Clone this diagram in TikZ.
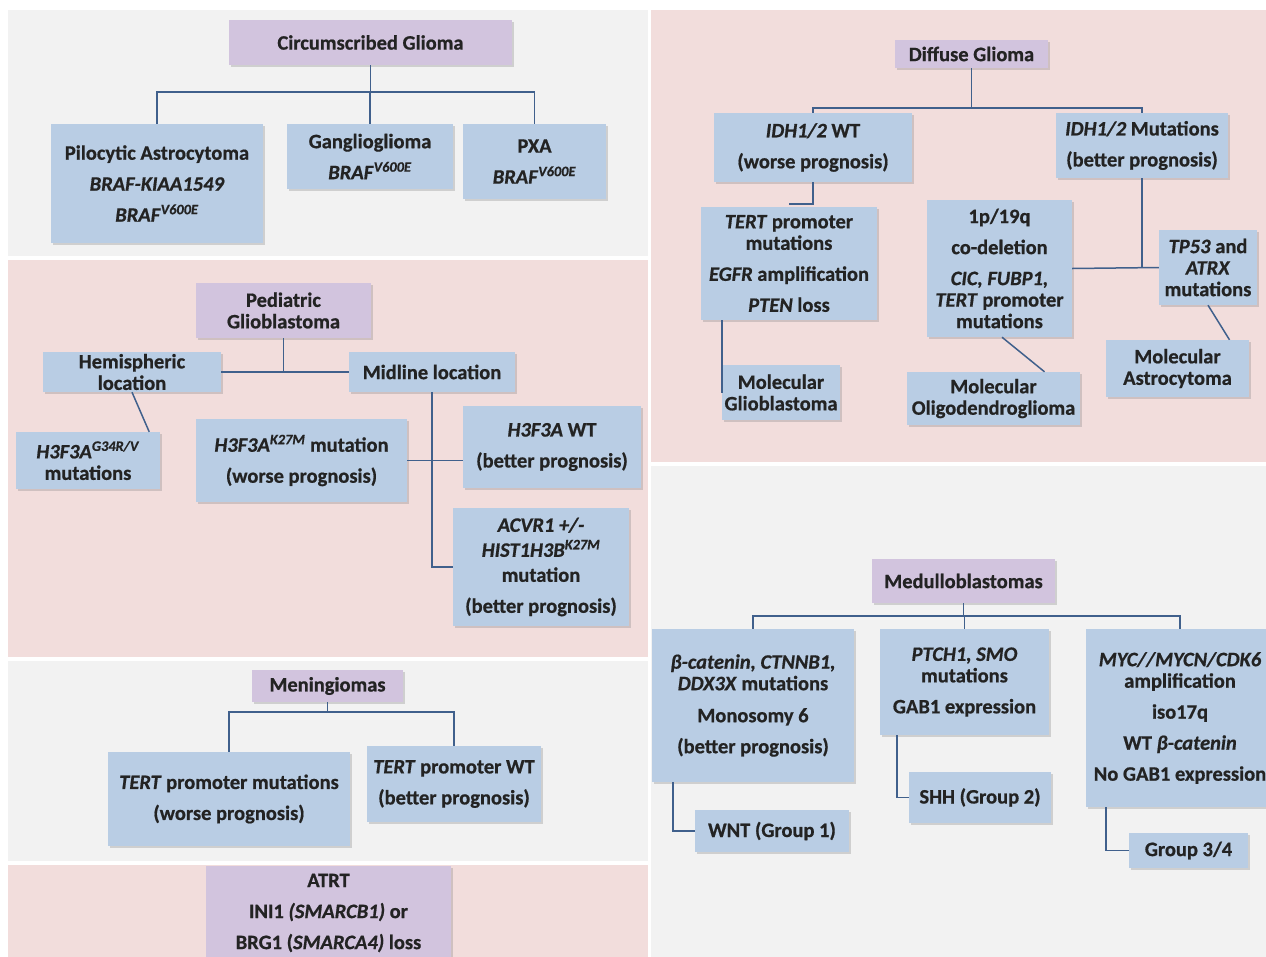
\documentclass[tikz,border=0pt]{standalone}
\usepackage{fontspec}
\setmainfont{Carlito}[BoldFeatures={FakeBold=0.7},BoldItalicFeatures={FakeBold=0.7}]
\usetikzlibrary{shadows,calc}
\definecolor{boxblue}{RGB}{185,205,228}
\definecolor{boxpurple}{RGB}{210,196,222}
\definecolor{panelpink}{RGB}{242,221,220}
\definecolor{panelgray}{RGB}{242,242,242}
\definecolor{linec}{RGB}{64,96,140}
\definecolor{txt}{RGB}{35,35,35}
\tikzset{
  bx/.style={rectangle, fill=boxblue, inner sep=0pt, align=center, text=txt,
    font=\bfseries\fontsize{20.5}{31}\selectfont,
    drop shadow={shadow xshift=1.5pt,shadow yshift=-2pt,opacity=0.3}},
  pbx/.style={bx, fill=boxpurple},
  tight/.style={font=\bfseries\fontsize{20.5}{21.5}\selectfont},
  sz/.style 2 args={minimum width=#1pt, minimum height=#2pt},
  conn/.style={draw=linec, line width=1.5pt},
}
\newcommand{\gi}[1]{\textit{#1}}
\begin{document}
\begin{tikzpicture}[x=1pt,y=-1pt]
\useasboundingbox (0,0) rectangle (1266,956);
\clip (0,0) rectangle (1266,956);
\fill[white] (0,0) rectangle (1266,956);
% panels
\fill[panelgray] (8,10) rectangle (648,256);
\fill[panelpink] (8,260) rectangle (648,657);
\fill[panelgray] (8,661) rectangle (648,861);
\fill[panelpink] (8,865) rectangle (648,960);
\fill[panelpink] (651,10) rectangle (1266,462);
\fill[panelgray] (651,466) rectangle (1266,960);

% ---------- Circumscribed glioma
\node[pbx, sz={283}{45}] (circ) at (370.5,42.5) {Circumscribed Glioma};
\node[bx, sz={212}{119}] (pilo) at (157,183.5) {Pilocytic Astrocytoma\\ \gi{BRAF-KIAA1549}\\ \gi{BRAF}\textsuperscript{\gi{V600E}}};
\node[bx, sz={166}{65}] (gang) at (370,156.5) {Ganglioglioma\\ \gi{BRAF}\textsuperscript{\gi{V600E}}};
\node[bx, sz={143}{75}] (pxa) at (534.5,161.5) {PXA\\ \gi{BRAF}\textsuperscript{\gi{V600E}}};
\coordinate (cj) at (370.5,92);
\draw[conn] (circ.south) -- (cj);
\draw[conn] (pilo.north) |- (cj) -| (pxa.north);
\draw[conn] (gang.north) -- (gang.north |- cj);

% ---------- Pediatric glioblastoma
\node[pbx, tight, sz={175}{55}] (ped) at (283.5,310.5) {Pediatric\\ Glioblastoma};
\node[bx, tight, sz={178}{40}] (hemi) at (132,372) {Hemispheric\\ location};
\node[bx, sz={166}{40}] (mid) at (432,372) {Midline location};
\node[bx, tight, sz={144}{57}] (g34) at (88,460.5) {\gi{H3F3A}\textsuperscript{\gi{G34R/V}}\\ mutations};
\node[bx, sz={211}{83}] (k27) at (301.5,460.5) {\gi{H3F3A}\textsuperscript{\gi{K27M}} mutation\\ (worse prognosis)};
\node[bx, sz={178}{82}] (h3wt) at (552,447) {\gi{H3F3A} WT\\ (better prognosis)};
\node[bx, tight, sz={176}{118}] (acvr) at (541,567) {\gi{ACVR1 +/-}\\[3.5pt] \gi{HIST1H3B}\textsuperscript{\gi{K27M}}\\[3.5pt] mutation\\[9.5pt] (better prognosis)};
\draw[conn] (hemi.east) -- (mid.west);
\draw[conn] (ped.south) -- (ped.south |- hemi.east);
\draw[conn] (hemi.south) -- ($(g34.north east)+(-11,0)$);
\draw[conn] (k27.east) -- (k27.east -| h3wt.west);
\draw[conn] (mid.south) |- (acvr.west);

% ---------- Meningiomas
\node[pbx, sz={151}{32}] (men) at (327.5,686) {Meningiomas};
\node[bx, sz={242}{94}] (tertm) at (229,799) {\gi{TERT} promoter mutations\\ (worse prognosis)};
\node[bx, sz={174}{76}] (tertwt) at (454,784) {\gi{TERT} promoter WT\\ (better prognosis)};
\coordinate (mj) at (327.5,712);
\draw[conn] (men.south) -- (mj);
\draw[conn] (tertm.north) |- (mj) -| (tertwt.north);

% ---------- ATRT
\node[pbx, sz={245}{94}] (atrt) at (328.5,913) {ATRT\\ INI1 \gi{(SMARCB1)} or\\ BRG1 (\gi{SMARCA4)} loss};

% ---------- Diffuse glioma
\node[pbx, sz={153}{28}] (diff) at (971.5,54) {Diffuse Glioma};
\node[bx, sz={198}{69}] (idhwt) at (813,147.5) {\gi{IDH1/2} WT\\ (worse prognosis)};
\node[bx, sz={172}{65}] (idhm) at (1142,145.5) {\gi{IDH1/2} Mutations\\ (better prognosis)};
\node[bx, tight, sz={176}{113}] (tertd) at (789,263.5) {\gi{TERT} promoter\\ mutations\\[9.5pt] \gi{EGFR} amplification\\[9.5pt] \gi{PTEN} loss};
\node[bx, tight, sz={145}{137}] (p19) at (999.5,268.5) {1p/19q\\[9.5pt] co-deletion\\[9.5pt] \gi{CIC, FUBP1,}\\ \gi{TERT} promoter\\ mutations};
\node[bx, tight, sz={98}{75}] (tp53) at (1208,267.5) {\gi{TP53} and\\ \gi{ATRX}\\ mutations};
\node[bx, tight, sz={118}{55}] (molgbm) at (781,392.5) {Molecular\\ Glioblastoma};
\node[bx, tight, sz={173}{53}] (oligo) at (993.5,398.5) {Molecular\\ Oligodendroglioma};
\node[bx, tight, sz={143}{57}] (astro) at (1177.5,368.5) {Molecular\\ Astrocytoma};
\coordinate (dj) at (971.5,108);
\draw[conn] (diff.south) -- (dj);
\draw[conn] (idhwt.north) |- (dj) -| (idhm.north);
\draw[conn] (idhwt.south) |- ($(tertd.north)+(0,-3)$);
\draw[conn] (molgbm.west |- tertd.south) -- (molgbm.west);
\draw[conn] (p19.east) -- (tp53.west);
\draw[conn] (idhm.south) -- (idhm.south |- tp53.west);
\draw[conn] ($(p19.south)+(2.5,0)$) -- ($(oligo.north)+(51,0)$);
\draw[conn] (tp53.south) -- ($(astro.north)+(52,0)$);

% ---------- Medulloblastomas
\node[pbx, sz={183}{44}] (medu) at (963.5,581) {Medulloblastomas};
\node[bx, tight, sz={202}{153}] (bcat) at (753,705.5) {\gi{β-catenin, CTNNB1,}\\ \gi{DDX3X} mutations\\[10.5pt] Monosomy 6\\[9.5pt] (better prognosis)};
\node[bx, tight, sz={169}{106}] (ptch) at (964.5,682) {\gi{PTCH1, SMO}\\ mutations\\[9.5pt] GAB1 expression};
\node[bx, tight, sz={188}{178}] (myc) at (1180,718) {\gi{MYC//MYCN/CDK6}\\ amplification\\[9.5pt] iso17q\\[9.5pt] WT \gi{β-catenin}\\[9.5pt] No GAB1 expression};
\node[bx, sz={154}{42}] (wnt) at (772,831) {WNT (Group 1)};
\node[bx, sz={142}{51}] (shh) at (980,797.5) {SHH (Group 2)};
\node[bx, sz={119}{35}] (g3) at (1188.5,850.5) {Group 3/4};
\coordinate (mdj) at (963.5,616);
\draw[conn] (medu.south) -- (mdj);
\draw[conn] (bcat.north) |- (mdj) -| (myc.north);
\draw[conn] (ptch.north) -- (ptch.north |- mdj);
\draw[conn] ($(bcat.south)+(-80,0)$) |- (wnt.west);
\draw[conn] ($(ptch.south)+(-67.5,0)$) |- (shh.west);
\draw[conn] ($(myc.south)+(-74,0)$) |- (g3.west);
\end{tikzpicture}
\end{document}
